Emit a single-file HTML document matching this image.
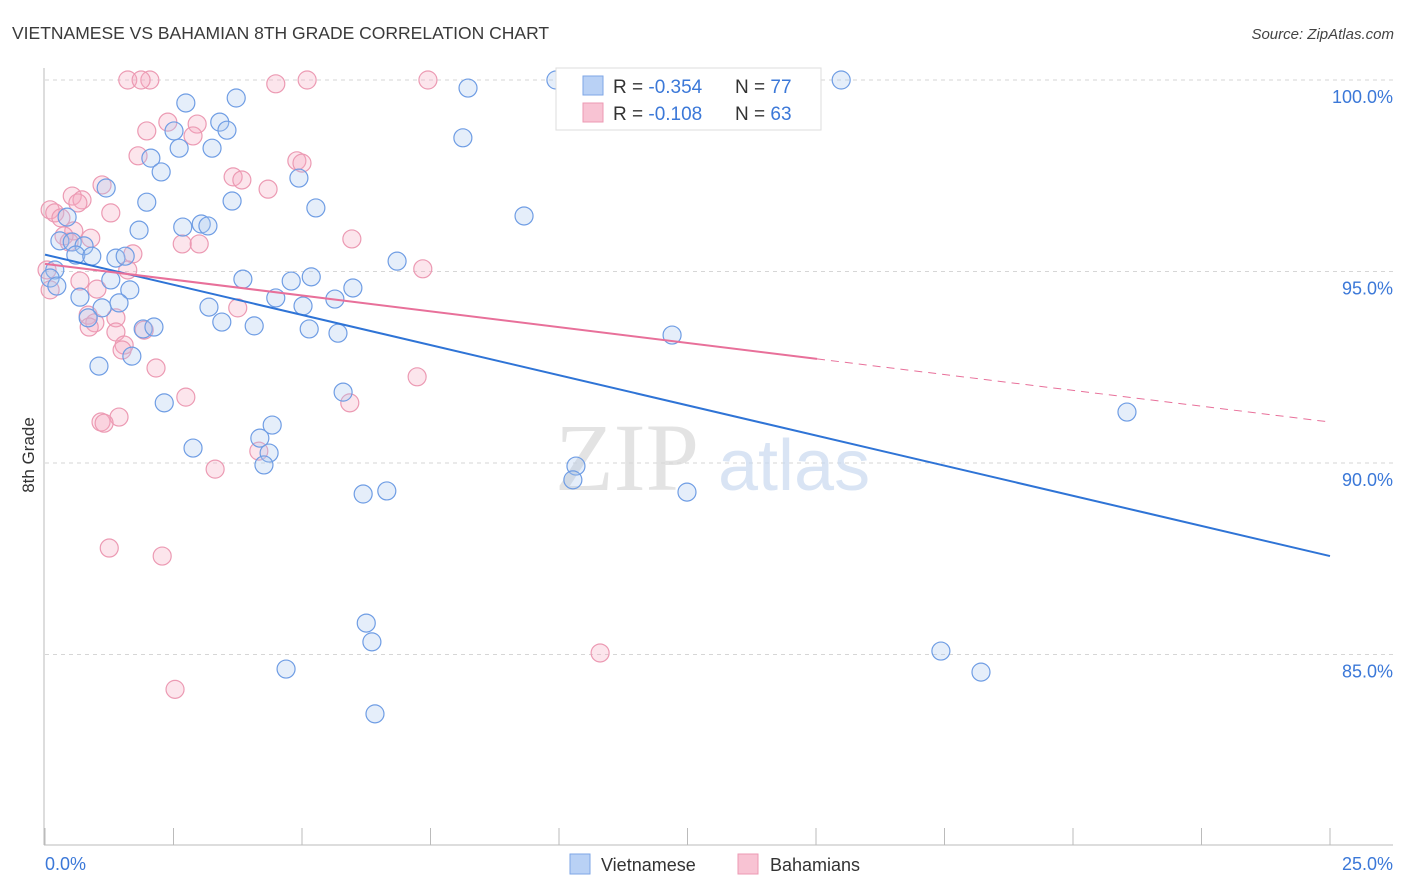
<!DOCTYPE html>
<html><head><meta charset="utf-8"><style>
body{margin:0;background:#fff;font-family:"Liberation Sans",sans-serif;}
svg{display:block}
</style></head><body>
<svg width="1406" height="892" viewBox="0 0 1406 892" xmlns="http://www.w3.org/2000/svg">
<text x="12" y="39" font-size="17.5" fill="#3a3a3a" font-family="Liberation Sans, sans-serif">VIETNAMESE VS BAHAMIAN 8TH GRADE CORRELATION CHART</text>
<text x="1394" y="39" font-size="15" fill="#444" font-style="italic" text-anchor="end">Source: ZipAtlas.com</text>
<g id="grid"></g>
<text x="555" y="490" font-size="96" fill="#d8d8d8" font-family="Liberation Serif, serif" opacity="0.7">ZIP</text>
<text x="718" y="490" font-size="72" fill="#c9daf0" opacity="0.7">atlas</text>
<g id="pts"></g>
<g id="lines"></g>
<text transform="translate(34,455) rotate(-90)" font-size="17" fill="#333" text-anchor="middle">8th Grade</text>
<g>
<rect x="556" y="68" width="265" height="62" fill="#fff" stroke="#ddd"/>
<rect x="583" y="76" width="20" height="19" fill="#b9d1f5" stroke="#7ea6e6"/>
<rect x="583" y="103" width="20" height="19" fill="#f8c3d3" stroke="#ec9ab3"/>
<text x="613" y="93" font-size="19" fill="#333">R = <tspan fill="#3b78d8">-0.354</tspan></text>
<text x="735" y="93" font-size="19" fill="#333">N = <tspan fill="#3b78d8">77</tspan></text>
<text x="613" y="120" font-size="19" fill="#333">R = <tspan fill="#3b78d8">-0.108</tspan></text>
<text x="735" y="120" font-size="19" fill="#333">N = <tspan fill="#3b78d8">63</tspan></text>
</g>
<g>
<rect x="570" y="854" width="20" height="20" fill="#b9d1f5" stroke="#7ea6e6"/>
<text x="601" y="871" font-size="18" fill="#333">Vietnamese</text>
<rect x="738" y="854" width="20" height="20" fill="#f8c3d3" stroke="#ec9ab3"/>
<text x="770" y="871" font-size="18" fill="#333">Bahamians</text>
</g>
</svg>
<script>
const xTickLabels=["0.0%","25.0%"];
const yTicks=[100,95,90,85];
const blueX=[9.94,15.49,8.23,2.74,3.72,3.40,3.54,2.51,2.61,3.25,8.13,2.06,2.26,1.19,4.94,1.98,3.64,5.27,9.32,0.43,1.83,2.68,3.04,3.17,0.29,0.53,0.76,0.60,0.91,1.38,1.56,6.85,0.19,0.10,0.23,1.28,1.65,3.85,4.79,5.18,5.99,0.68,1.44,4.49,5.64,1.11,3.19,5.02,0.84,3.44,4.07,1.91,2.12,5.14,5.70,12.20,1.69,1.05,5.80,2.32,21.05,4.42,4.18,2.88,4.36,4.26,10.33,10.27,12.49,6.19,6.65,6.25,6.36,17.43,4.69,18.21,6.42];
const blueY=[100.0,100.0,99.79,99.40,99.53,98.90,98.69,98.67,98.22,98.22,98.49,97.96,97.60,97.18,97.44,96.81,96.84,96.66,96.45,96.42,96.08,96.16,96.24,96.19,95.80,95.77,95.67,95.43,95.40,95.35,95.40,95.27,95.04,94.83,94.62,94.78,94.52,94.80,94.75,94.86,94.57,94.33,94.18,94.31,94.28,94.05,94.07,94.10,93.79,93.68,93.58,93.50,93.55,93.50,93.39,93.34,92.79,92.53,91.85,91.57,91.33,90.99,90.65,90.39,90.26,89.95,89.92,89.56,89.24,89.19,89.27,85.82,85.33,85.09,84.62,84.54,83.45];
const pinkX=[1.61,2.04,1.87,5.10,7.45,4.49,2.39,2.96,1.98,2.88,1.81,4.90,5.00,3.66,3.83,4.34,1.11,0.53,0.72,0.64,1.28,0.10,0.19,0.31,0.56,0.37,0.47,0.89,2.67,3.00,5.97,1.71,1.61,7.35,0.04,0.10,0.68,1.01,3.75,0.84,1.38,0.97,0.86,1.38,1.93,1.54,1.50,2.16,7.24,2.74,5.93,1.44,1.09,1.15,4.16,3.31,1.25,2.28,10.80,2.53];
const pinkY=[100.0,100.0,100.0,100.0,100.0,99.90,98.90,98.85,98.67,98.54,98.02,97.89,97.83,97.47,97.39,97.15,97.26,96.97,96.87,96.79,96.53,96.61,96.53,96.40,96.06,95.93,95.77,95.87,95.72,95.72,95.85,95.46,95.04,95.07,95.04,94.52,94.75,94.54,94.05,93.86,93.79,93.66,93.55,93.42,93.47,93.08,92.95,92.48,92.25,91.72,91.57,91.20,91.07,91.04,90.31,89.84,87.78,87.57,85.04,84.09];
const blueTrend=[95.44,87.57];
const pinkTrend=[95.20,91.07];
const pinkSolidEnd=15.02;
const NS="http://www.w3.org/2000/svg";
const X0=45,X1=1330,Y100=80,PXPER=38.3;
function sx(v){return X0+(X1-X0)*v/25;}
function sy(v){return Y100+(100-v)*PXPER;}
function mk(tag,attrs,parent){const e=document.createElementNS(NS,tag);for(const k in attrs)e.setAttribute(k,attrs[k]);parent.appendChild(e);return e;}
const grid=document.getElementById('grid');
yTicks.forEach(t=>{
 const l=mk('line',{x1:45,x2:1393,y1:sy(t),y2:sy(t),stroke:'#d6d6d6','stroke-dasharray':'4,4'},grid);
 
 
 const tx=mk('text',{x:1393,y:sy(t)+23,'font-size':18,fill:'#3b78d8','text-anchor':'end'},grid);
 tx.textContent=t.toFixed(1)+'%';
 
 
});
const ax=mk('line',{x1:44,x2:44,y1:68,y2:845,stroke:'#bbb'},grid);


const bx=mk('line',{x1:44,x2:1393,y1:845,y2:845,stroke:'#bbb'},grid);


for(let i=0;i<=10;i++){
 const t=mk('line',{x1:sx(i*2.5),x2:sx(i*2.5),y1:828,y2:845,stroke:'#bbb'},grid);
 
 
}
[[xTickLabels[0],45,'start'],[xTickLabels[1],1393,'end']].forEach(a=>{
 const t=mk('text',{x:a[1],y:870,'font-size':18,fill:'#3b78d8','text-anchor':a[2]},grid);
 t.textContent=a[0];
 
 
});
const pts=document.getElementById('pts');
function dots(xs,ys,fill,stroke,name){
 xs.forEach((v,i)=>{
  const c=mk('circle',{cx:sx(v),cy:sy(ys[i]),r:9,fill:fill,'fill-opacity':0.3,stroke:stroke,'stroke-width':1.2},pts);
  
  
 });
}
dots(pinkX,pinkY,'#f4a8c0','#ec9ab3','bahamian-point');
dots(blueX,blueY,'#a8c6f0','#6f9de4','vietnamese-point');
const lines=document.getElementById('lines');
const bl=mk('line',{x1:sx(0),y1:sy(blueTrend[0]),x2:sx(25),y2:sy(blueTrend[1]),stroke:'#2f74d6','stroke-width':2},lines);


const pm=pinkTrend[0]+(pinkTrend[1]-pinkTrend[0])*pinkSolidEnd/25;
const pl=mk('line',{x1:sx(0),y1:sy(pinkTrend[0]),x2:sx(pinkSolidEnd),y2:sy(pm),stroke:'#e8709a','stroke-width':2},lines);


const pd=mk('line',{x1:sx(pinkSolidEnd),y1:sy(pm),x2:sx(25),y2:sy(pinkTrend[1]),stroke:'#e8709a','stroke-width':1,'stroke-dasharray':'8,6'},lines);


</script>
</body></html>
